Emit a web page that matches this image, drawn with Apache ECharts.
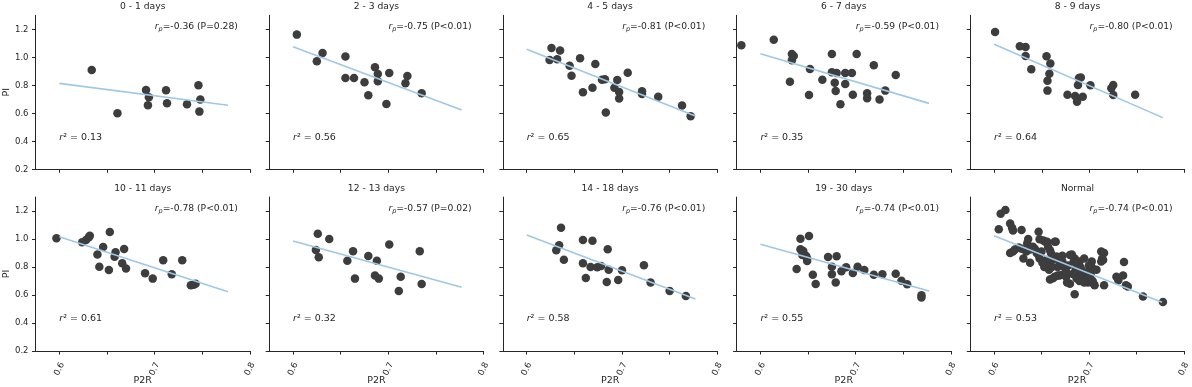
<!DOCTYPE html>
<html>
<head>
<meta charset="utf-8">
<script src="https://cdn.jsdelivr.net/npm/echarts@6/dist/echarts.min.js"></script>
<style>
  html, body { margin: 0; padding: 0; background: #fff; }
  #chart { width: 1192px; height: 387px; }
</style>
</head>
<body>
<div id="chart"></div>
<script>
var panelTitles = ['0 - 1 days', '2 - 3 days', '4 - 5 days', '6 - 7 days', '8 - 9 days',
  '10 - 11 days', '12 - 13 days', '14 - 18 days', '19 - 30 days', 'Normal'];
var rpLabels = ['-0.36 (P=0.28)', '-0.75 (P<0.01)', '-0.81 (P<0.01)', '-0.59 (P<0.01)', '-0.80 (P<0.01)',
  '-0.78 (P<0.01)', '-0.57 (P=0.02)', '-0.76 (P<0.01)', '-0.74 (P<0.01)', '-0.74 (P<0.01)'];
var r2Labels = ['0.13', '0.56', '0.65', '0.35', '0.64', '0.61', '0.32', '0.58', '0.55', '0.53'];

var xTicks = [0.6, 0.65, 0.7, 0.75, 0.8];
var xTickLabels = [0.6, 0.7, 0.8];
var yTicks = [0.2, 0.4, 0.6, 0.8, 1.0, 1.2];

// regression line ends (x shared, y per panel)
var fitX = [0.6, 0.777];
var fitY = [[0.814, 0.657], [1.076, 0.624], [1.057, 0.581], [1.026, 0.671], [1.093, 0.569],
  [1.016, 0.624], [0.986, 0.655], [1.029, 0.571], [0.962, 0.629], [1.024, 0.548]];

var days0_1 = [[0.634, 0.910], [0.661, 0.600], [0.691, 0.767], [0.694, 0.714], [0.693, 0.657],
  [0.712, 0.764], [0.713, 0.671], [0.734, 0.664], [0.746, 0.800], [0.748, 0.698], [0.747, 0.612]];
var days2_3 = [[0.604, 1.162], [0.625, 0.971], [0.631, 1.031], [0.655, 1.005], [0.655, 0.852],
  [0.664, 0.852], [0.675, 0.821], [0.679, 0.729], [0.686, 0.929], [0.689, 0.881], [0.689, 0.829],
  [0.698, 0.667], [0.701, 0.888], [0.718, 0.814], [0.720, 0.867], [0.735, 0.743]];
var days4_5 = [[0.626, 1.067], [0.624, 0.981], [0.632, 0.986], [0.635, 1.048], [0.645, 0.940],
  [0.647, 0.869], [0.656, 0.993], [0.659, 0.750], [0.669, 0.783], [0.672, 0.952], [0.679, 0.840],
  [0.682, 0.843], [0.683, 0.605], [0.692, 0.783], [0.695, 0.838], [0.697, 0.752], [0.697, 0.705],
  [0.706, 0.890], [0.721, 0.757], [0.721, 0.738], [0.738, 0.719], [0.763, 0.655], [0.772, 0.579]];
var days6_7 = [[0.580, 1.086], [0.614, 1.126], [0.633, 1.024], [0.635, 1.010], [0.633, 0.979],
  [0.631, 0.826], [0.651, 0.731], [0.652, 0.917], [0.665, 0.840], [0.675, 1.024], [0.675, 0.893],
  [0.680, 0.888], [0.678, 0.819], [0.679, 0.760], [0.684, 0.664], [0.689, 0.888], [0.689, 0.810],
  [0.696, 0.888], [0.697, 0.733], [0.701, 1.024], [0.712, 0.743], [0.712, 0.707], [0.719, 0.943],
  [0.725, 0.698], [0.731, 0.762], [0.742, 0.874]];
var days8_9 = [[0.601, 1.181], [0.627, 1.079], [0.633, 1.074], [0.633, 1.010], [0.639, 0.914],
  [0.655, 1.007], [0.659, 0.955], [0.658, 0.883], [0.656, 0.833], [0.656, 0.762], [0.677, 0.733],
  [0.685, 0.724], [0.687, 0.683], [0.688, 0.802], [0.689, 0.852], [0.691, 0.855], [0.693, 0.719],
  [0.701, 0.800], [0.723, 0.779], [0.725, 0.802], [0.725, 0.731], [0.748, 0.733]];
var days10_11 = [[0.597, 1.005], [0.624, 0.976], [0.628, 0.993], [0.631, 1.012], [0.632, 1.024],
  [0.640, 0.890], [0.642, 0.802], [0.646, 0.943], [0.652, 0.779], [0.653, 1.050], [0.658, 0.874],
  [0.659, 0.905], [0.666, 0.826], [0.668, 0.929], [0.670, 0.790], [0.690, 0.755], [0.698, 0.717],
  [0.709, 0.848], [0.718, 0.748], [0.729, 0.848], [0.738, 0.669], [0.741, 0.674], [0.743, 0.681]];
var days12_13 = [[0.626, 1.038], [0.624, 0.921], [0.627, 0.869], [0.638, 1.000], [0.657, 0.845],
  [0.663, 0.912], [0.665, 0.717], [0.679, 0.879], [0.686, 0.740], [0.688, 0.845], [0.690, 0.717],
  [0.701, 0.960], [0.711, 0.629], [0.713, 0.731], [0.733, 0.912], [0.735, 0.679]];
var days14_18 = [[0.636, 1.081], [0.634, 0.955], [0.631, 0.919], [0.639, 0.852], [0.659, 0.993],
  [0.669, 0.988], [0.659, 0.826], [0.662, 0.721], [0.667, 0.800], [0.674, 0.798], [0.678, 0.807],
  [0.685, 0.926], [0.686, 0.781], [0.684, 0.693], [0.696, 0.707], [0.700, 0.776], [0.723, 0.812],
  [0.730, 0.690], [0.750, 0.629], [0.767, 0.593]];
var days19_30 = [[0.642, 1.002], [0.651, 1.021], [0.638, 0.786], [0.642, 0.926], [0.645, 0.914],
  [0.644, 0.886], [0.648, 0.879], [0.649, 0.843], [0.649, 0.860], [0.655, 0.745], [0.658, 0.679],
  [0.671, 0.871], [0.675, 0.802], [0.675, 0.748], [0.680, 0.876], [0.679, 0.690], [0.685, 0.769],
  [0.690, 0.798], [0.697, 0.757], [0.702, 0.802], [0.709, 0.779], [0.719, 0.745], [0.728, 0.748],
  [0.742, 0.752], [0.748, 0.702], [0.754, 0.676], [0.769, 0.598], [0.769, 0.583]];
var normal = [[0.605, 1.070], [0.607, 1.180], [0.612, 1.207], [0.617, 1.110], [0.619, 1.080],
  [0.620, 1.060], [0.629, 1.064], [0.636, 1.000], [0.647, 1.052],
  [0.617, 0.900], [0.620, 0.910], [0.622, 0.925], [0.626, 0.940], [0.629, 0.930], [0.631, 0.860],
  [0.634, 0.910], [0.635, 0.970], [0.638, 0.830], [0.638, 0.925], [0.641, 0.945], [0.643, 0.930],
  [0.645, 0.900], [0.647, 0.885], [0.648, 0.998], [0.650, 0.910], [0.652, 0.990], [0.654, 0.980],
  [0.656, 0.980], [0.657, 0.945], [0.659, 0.920], [0.660, 0.900], [0.664, 0.980], [0.665, 0.980],
  [0.653, 0.800], [0.654, 0.810], [0.655, 0.850], [0.656, 0.840], [0.660, 0.840], [0.662, 0.870],
  [0.664, 0.870], [0.666, 0.875], [0.668, 0.850], [0.670, 0.860], [0.672, 0.840], [0.667, 0.800],
  [0.659, 0.710], [0.662, 0.720], [0.664, 0.730], [0.667, 0.740], [0.669, 0.740], [0.672, 0.745],
  [0.676, 0.730], [0.677, 0.690], [0.680, 0.680], [0.685, 0.605],
  [0.678, 0.810], [0.680, 0.885], [0.682, 0.890], [0.684, 0.840], [0.685, 0.860], [0.686, 0.790],
  [0.688, 0.810], [0.689, 0.760], [0.690, 0.840], [0.691, 0.800], [0.692, 0.780], [0.692, 0.710],
  [0.693, 0.740], [0.694, 0.730], [0.695, 0.860], [0.696, 0.760], [0.697, 0.720], [0.698, 0.700],
  [0.699, 0.690], [0.699, 0.740], [0.700, 0.810], [0.701, 0.770], [0.702, 0.750], [0.703, 0.840],
  [0.703, 0.800], [0.704, 0.700], [0.705, 0.680], [0.706, 0.670], [0.708, 0.780],
  [0.713, 0.910], [0.716, 0.900], [0.714, 0.860], [0.715, 0.850], [0.713, 0.840], [0.716, 0.670],
  [0.729, 0.730], [0.731, 0.705], [0.736, 0.740], [0.737, 0.835], [0.739, 0.670], [0.741, 0.660],
  [0.757, 0.590], [0.778, 0.550],
  [0.658, 0.780], [0.661, 0.800], [0.674, 0.800], [0.676, 0.770], [0.683, 0.750], [0.687, 0.720],
  [0.690, 0.700], [0.695, 0.690], [0.700, 0.720], [0.672, 0.880], [0.648, 0.860], [0.651, 0.830]];

var panelPoints = [days0_1, days2_3, days4_5, days6_7, days8_9,
  days10_11, days12_13, days14_18, days19_30, normal];

var chart = echarts.init(document.getElementById('chart'), null, { renderer: 'canvas' });

var ink = '#262626', dotColor = '#3d3d3d', fitColor = '#9dc8e6';
var font = 'DejaVu Sans';
var colLeft = 35.5, colStep = 233.7, plotW = 214.4, plotH = 154;
var rowTop = [15.3, 197];

var grids = [], xAxes = [], yAxes = [], series = [], titles = [];

panelPoints.forEach(function(pts, i) {
  var row = Math.floor(i / 5), col = i % 5;
  var left = colLeft + col * colStep, top = rowTop[row];
  var bottomRow = row === 1, firstCol = col === 0;

  grids.push({ left: left, top: top, width: plotW, height: plotH });

  xAxes.push({
    type: 'value', gridIndex: i, min: 0.575, max: 0.8,
    name: bottomRow ? 'P2R' : '', nameLocation: 'middle', nameGap: 25, nameMoveOverlap: false,
    nameTextStyle: { color: ink, fontFamily: font, fontSize: 9.5 },
    axisLine: { show: true, onZero: false, lineStyle: { color: ink, width: 1 } },
    axisTick: { show: true, length: 3.5, customValues: xTicks, lineStyle: { color: ink } },
    axisLabel: {
      show: bottomRow, customValues: xTickLabels, rotate: 65, margin: 18,
      align: 'center', verticalAlign: 'middle',
      color: ink, fontFamily: font, fontSize: 8.5,
      formatter: function(v) { return v.toFixed(1); }
    },
    splitLine: { show: false }
  });

  yAxes.push({
    type: 'value', gridIndex: i, min: 0.2, max: 1.3,
    name: firstCol ? 'PI' : '', nameLocation: 'middle', nameGap: 24, nameRotate: 90,
    nameTextStyle: { color: ink, fontFamily: font, fontSize: 9.5 },
    axisLine: { show: true, onZero: false, lineStyle: { color: ink, width: 1 } },
    axisTick: { show: true, length: 3.5, customValues: yTicks, lineStyle: { color: ink } },
    axisLabel: {
      show: firstCol, customValues: yTicks, margin: 7,
      color: ink, fontFamily: font, fontSize: 8.5,
      formatter: function(v) { return v.toFixed(1); }
    },
    splitLine: { show: false }
  });

  series.push({
    type: 'scatter', xAxisIndex: i, yAxisIndex: i, data: pts,
    symbolSize: 8.5, itemStyle: { color: dotColor, opacity: 1 }, z: 2, silent: true
  });
  series.push({
    type: 'line', xAxisIndex: i, yAxisIndex: i,
    data: [[fitX[0], fitY[i][0]], [fitX[1], fitY[i][1]]],
    showSymbol: false, lineStyle: { color: fitColor, width: 1.6 }, z: 3, silent: true
  });

  // panel title and the two annotations
  titles.push({
    text: panelTitles[i], left: left + plotW / 2, top: top - 8.6, padding: 0,
    textAlign: 'center', textVerticalAlign: 'middle',
    textStyle: { color: ink, fontFamily: font, fontSize: 9.2, fontWeight: 'normal' }
  });
  titles.push({
    text: '{i|r}{s|p}{t|=' + rpLabels[i] + '}', left: left + plotW - 12, top: top + 11.4, padding: 0,
    textAlign: 'right', textVerticalAlign: 'middle',
    textStyle: {
      color: ink, fontFamily: font, fontSize: 9.2, fontWeight: 'normal',
      rich: {
        i: { fontFamily: font, fontSize: 9.2, fontStyle: 'italic', color: ink, lineHeight: 12 },
        s: { fontFamily: font, fontSize: 6.5, fontStyle: 'italic', color: ink, lineHeight: 7, verticalAlign: 'bottom' },
        t: { fontFamily: font, fontSize: 9.2, color: ink, lineHeight: 12 }
      }
    }
  });
  titles.push({
    text: '{i|r}{t|\u00b2 = ' + r2Labels[i] + '}', left: left + 23.8, top: top + plotH - 32, padding: 0,
    textAlign: 'left', textVerticalAlign: 'middle',
    textStyle: {
      color: ink, fontFamily: font, fontSize: 9.5, fontWeight: 'normal',
      rich: {
        i: { fontFamily: font, fontSize: 9.5, fontStyle: 'italic', color: ink, lineHeight: 12 },
        t: { fontFamily: font, fontSize: 9.5, color: ink, lineHeight: 12 }
      }
    }
  });
});

chart.setOption({
  animation: false,
  backgroundColor: '#fff',
  title: titles,
  grid: grids,
  xAxis: xAxes,
  yAxis: yAxes,
  series: series
});
</script>
</body>
</html>
